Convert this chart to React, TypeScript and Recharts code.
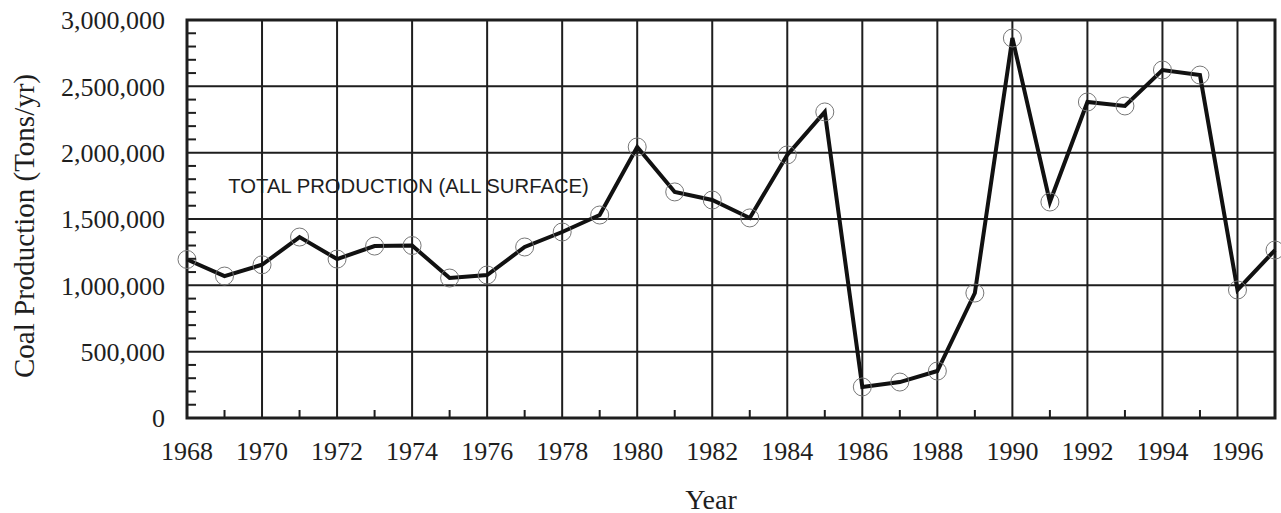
import React from 'react';
import {
  LineChart, Line, XAxis, YAxis, CartesianGrid, ReferenceArea, ReferenceDot, ReferenceLine, Label
} from 'recharts';

const years = [
  1968, 1969, 1970, 1971, 1972, 1973, 1974, 1975, 1976, 1977,
  1978, 1979, 1980, 1981, 1982, 1983, 1984, 1985, 1986, 1987,
  1988, 1989, 1990, 1991, 1992, 1993, 1994, 1995, 1996, 1997,
];
const production = [
  1195000, 1070000, 1155000, 1364000, 1198000, 1296000, 1300000, 1055000, 1078000, 1289000,
  1402000, 1530000, 2043000, 1704000, 1643000, 1508000, 1983000, 2307000, 234000, 271000,
  354000, 942000, 2864000, 1628000, 2382000, 2352000, 2623000, 2585000, 965000, 1266000,
];
const yearTicks = [1968, 1970, 1972, 1974, 1976, 1978, 1980, 1982, 1984, 1986, 1988, 1990, 1992, 1994, 1996];
const minorYearTicks = [1969, 1971, 1973, 1975, 1977, 1979, 1981, 1983, 1985, 1987, 1989, 1991, 1993, 1995];
const valueTicks = [0, 500000, 1000000, 1500000, 2000000, 2500000, 3000000];
// every 100,000 - labelled ones get text, the others a short inward tick
const allValueTicks = [
  0, 100000, 200000, 300000, 400000, 500000, 600000, 700000, 800000, 900000,
  1000000, 1100000, 1200000, 1300000, 1400000, 1500000, 1600000, 1700000, 1800000, 1900000,
  2000000, 2100000, 2200000, 2300000, 2400000, 2500000, 2600000, 2700000, 2800000, 2900000,
  3000000,
];
const annotationText = 'TOTAL PRODUCTION (ALL SURFACE)';

const data = years.map((year, i) => ({ year, value: production[i] }));

const INK = '#1e1e1e';
const serif = '"Liberation Serif", "Times New Roman", serif';
const Y_MARGIN = 22;

const NoTick = () => <g />;

const YTick = ({ x, y, payload }: any) => {
  const v = payload.value;
  if (!valueTicks.includes(v)) {
    return <line x1={x + Y_MARGIN} x2={x + Y_MARGIN + 9} y1={y} y2={y} stroke={INK} strokeWidth={2} />;
  }
  return (
    <text x={x} y={y} dy="0.355em" textAnchor="end" fill={INK} fontFamily={serif} fontSize={26}>
      {v.toLocaleString('en-US')}
    </text>
  );
};

const YTitle = ({ viewBox }: any) => {
  const cx = viewBox.x + 24;
  const cy = viewBox.y + viewBox.height / 2 + 7;
  return (
    <text x={cx} y={cy} transform={`rotate(-90 ${cx} ${cy})`} textAnchor="middle"
      dominantBaseline="central" fill={INK} fontFamily={serif} fontSize={29}>
      Coal Production (Tons/yr)
    </text>
  );
};

const XTitle = ({ viewBox }: any) => (
  <text x={viewBox.x + viewBox.width / 2 - 20} y={viewBox.y + 81} textAnchor="middle"
    dominantBaseline="central" fill={INK} fontFamily={serif} fontSize={28}>
    Year
  </text>
);

const AnnotationShape = ({ cx, cy }: any) => (
  <text x={cx} y={cy} fill={INK} fontFamily='"Liberation Sans", Arial, sans-serif' fontSize={20.3}>
    {annotationText}
  </text>
);

export default function App() {
  return (
    <div style={{ position: 'absolute', left: 0, top: 0, background: '#fff' }}>
      <LineChart width={1281} height={513} data={data}
        margin={{ top: 20, right: 6, left: 0, bottom: 35 }}>
        <CartesianGrid stroke={INK} strokeWidth={2} horizontal={false} />
        {valueTicks.map((v) => (
          <ReferenceLine key={v} y={v} stroke={INK} strokeWidth={2} ifOverflow="visible" />
        ))}
        <XAxis dataKey="year" type="number" domain={[1968, 1997]} ticks={yearTicks}
          axisLine={false} tickLine={false} tickSize={0} tickMargin={24} height={60}
          interval={0} tick={{ fill: INK, fontFamily: serif, fontSize: 26 }}>
          <Label content={<XTitle />} />
        </XAxis>
        <XAxis xAxisId="minor" dataKey="year" type="number" domain={[1968, 1997]}
          ticks={minorYearTicks} mirror height={1} axisLine={false} tickSize={8} interval={0}
          tickLine={{ stroke: INK, strokeWidth: 2 }} tick={<NoTick />} />
        <YAxis type="number" domain={[0, 3000000]} ticks={allValueTicks} width={187}
          axisLine={false} tickLine={false} tickSize={0} tickMargin={Y_MARGIN} interval={0}
          tick={<YTick />}>
          <Label content={<YTitle />} />
        </YAxis>
        <ReferenceArea x1={1968} x2={1997} y1={0} y2={3000000} fill="none"
          stroke={INK} strokeWidth={3} ifOverflow="visible" />
        <ReferenceDot x={1969.1} y={1696000} r={0} shape={<AnnotationShape />} />
        <Line type="linear" dataKey="value" stroke="#111" strokeWidth={4}
          isAnimationActive={false}
          dot={{ r: 9, fill: 'none', stroke: '#777', strokeWidth: 1 }}
          activeDot={false} />
      </LineChart>
    </div>
  );
}
